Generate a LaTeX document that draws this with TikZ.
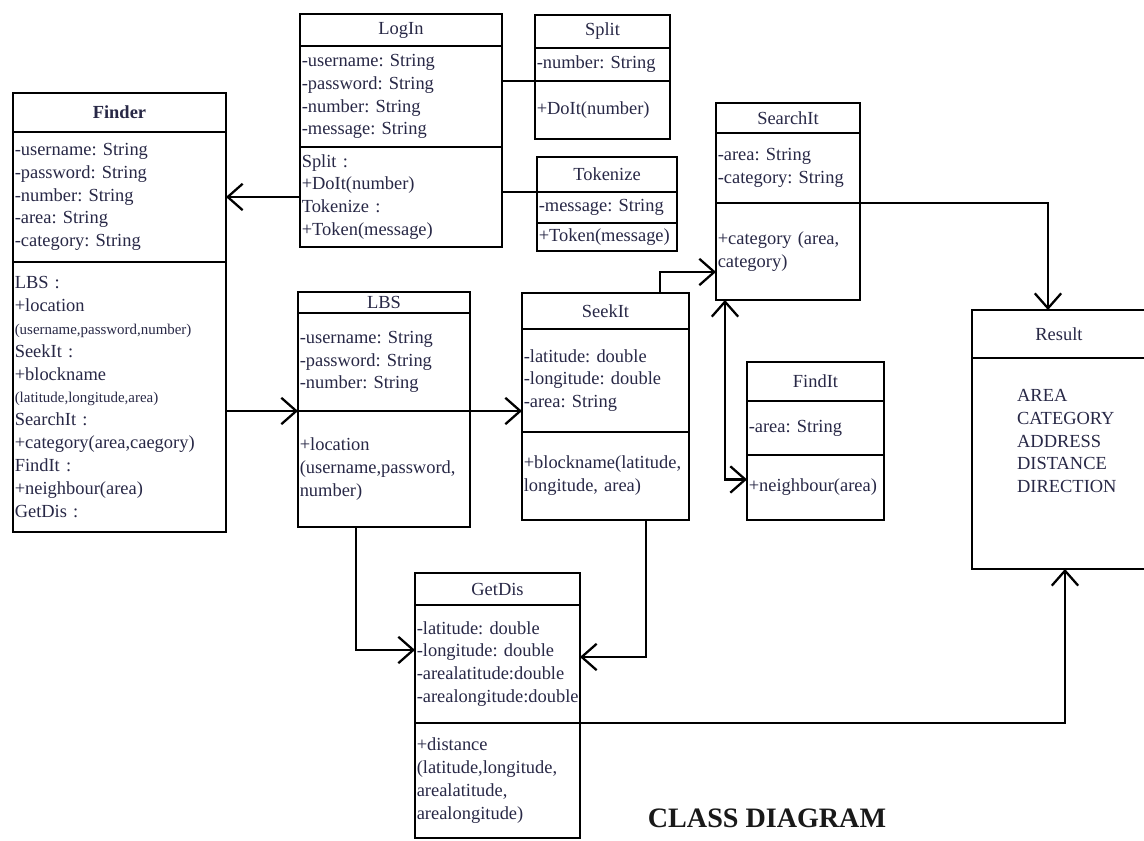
\documentclass[tikz,border=0pt]{standalone}
\usepackage{fontspec}
\setmainfont{Liberation Serif}
\usetikzlibrary{arrows.meta}

\definecolor{inktext}{RGB}{40,40,70}
\newcommand{\argsmall}[1]{{\fontsize{8.5}{13}\selectfont #1}}

\begin{document}
\begin{tikzpicture}[x=0.02cm, y=-0.02cm, line width=1.3pt,
        font=\fontsize{10.5}{13}\selectfont\frenchspacing,
        >={Straight Barb[length=8.5pt,width=15pt]},
        title_style/.style={draw, anchor=north west, align=center, inner xsep=1pt, inner ysep=0pt, outer sep=0pt, text=inktext},
        part_style/.style={draw, anchor=north west, align=left, inner xsep=1pt, inner ysep=0pt, outer sep=0pt, text=inktext},
        edge_style/.style={draw=black, line width=1.3pt, ->},
        both_style/.style={draw=black, line width=1.3pt, <->},
        link_style/.style={draw=black, line width=1.3pt}]

        \path [fill=white] (0,0) rectangle (1144,840);
        \useasboundingbox (0,0) rectangle (1144,840);

        % Finder
        \node [title_style, text width=4.19cm, minimum height=0.78cm, font=\fontsize{10.5}{13}\selectfont\bfseries](finder-t) at (13,93) {Finder};
        \node [part_style, text width=4.19cm, minimum height=2.6cm](finder-a) at (finder-t.south west) {-username: String\\-password: String\\-number: String\\-area: String\\-category: String};
        \node [part_style, text width=4.19cm, minimum height=5.4cm](finder-m) at (finder-a.south west) {LBS :\\+location\\\argsmall{(username,password,number)}\\SeekIt :\\+blockname\\\argsmall{(latitude,longitude,area)}\\SearchIt :\\+category(area,caegory)\\FindIt :\\+neighbour(area)\\GetDis :};

        % LogIn
        \node [title_style, text width=3.97cm, minimum height=0.64cm](login-t) at (300,14) {LogIn};
        \node [part_style, text width=3.97cm, minimum height=2.02cm](login-a) at (login-t.south west) {-username: String\\-password: String\\-number: String\\-message: String};
        \node [part_style, text width=3.97cm, minimum height=2.0cm](login-m) at (login-a.south west) {Split :\\+DoIt(number)\\Tokenize :\\+Token(message)};

        % Split
        \node [title_style, text width=2.63cm, minimum height=0.66cm](split-t) at (535,15) {Split};
        \node [part_style, text width=2.63cm, minimum height=0.66cm](split-a) at (split-t.south west) {-number: String};
        \node [part_style, text width=2.63cm, minimum height=1.16cm](split-m) at (split-a.south west) {+DoIt(number)\\[8pt]};

        % Tokenize
        \node [title_style, text width=2.73cm, minimum height=0.7cm](tokenize-t) at (537,157) {Tokenize};
        \node [part_style, text width=2.73cm, minimum height=0.62cm](tokenize-a) at (tokenize-t.south west) {-message: String};
        \node [part_style, text width=2.73cm, minimum height=0.56cm](tokenize-m) at (tokenize-a.south west) {+Token(message)};

        % LBS
        \node [title_style, text width=3.37cm, minimum height=0.42cm](lbs-t) at (298,292) {LBS};
        \node [part_style, text width=3.37cm, minimum height=1.96cm](lbs-a) at (lbs-t.south west) {-username: String\\-password: String\\-number: String};
        \node [part_style, text width=3.37cm, minimum height=2.32cm](lbs-m) at (lbs-a.south west) {+location\\(username,password,\\number)\\[6pt]};

        % SeekIt
        \node [title_style, text width=3.27cm, minimum height=0.72cm](seekit-t) at (522,293) {SeekIt};
        \node [part_style, text width=3.27cm, minimum height=2.06cm](seekit-a) at (seekit-t.south west) {-latitude: double\\-longitude: double\\-area: String};
        \node [part_style, text width=3.27cm, minimum height=1.76cm](seekit-m) at (seekit-a.south west) {+blockname(latitude,\\longitude, area)};

        % SearchIt
        \node [title_style, text width=2.81cm, minimum height=0.6cm](searchit-t) at (716,103) {SearchIt};
        \node [part_style, text width=2.81cm, minimum height=1.4cm](searchit-a) at (searchit-t.south west) {-area: String\\-category: String};
        \node [part_style, text width=2.81cm, minimum height=1.94cm](searchit-m) at (searchit-a.south west) {+category (area,\\category)};

        % FindIt
        \node [title_style, text width=2.67cm, minimum height=0.78cm](findit-t) at (747,362) {FindIt};
        \node [part_style, text width=2.67cm, minimum height=1.08cm](findit-a) at (findit-t.south west) {-area: String};
        \node [part_style, text width=2.67cm, minimum height=1.3cm](findit-m) at (findit-a.south west) {+neighbour(area)};

        % Result
        \node [title_style, text width=3.41cm, minimum height=0.96cm](result-t) at (972,310) {Result};
        \node [part_style, text width=3.41cm, minimum height=4.22cm](result-b) at (result-t.south west) {};
        \node [anchor=north west, align=left, inner sep=0pt, text=inktext](result-items) at (1016,388) {AREA\\CATEGORY\\ADDRESS\\DISTANCE\\DIRECTION};

        % GetDis
        \node [title_style, text width=3.23cm, minimum height=0.64cm](getdis-t) at (415,573) {GetDis};
        \node [part_style, text width=3.23cm, minimum height=2.36cm](getdis-a) at (getdis-t.south west) {-latitude: double\\-longitude: double\\-arealatitude:double\\\mbox{-arealongitude:double}};
        \node [part_style, text width=3.23cm, minimum height=2.3cm](getdis-m) at (getdis-a.south west) {+distance\\(latitude,longitude,\\arealatitude,\\arealongitude)};

        \node [font=\fontsize{16}{18}\selectfont\bfseries, text=black!90](caption) at (767,818) {CLASS DIAGRAM};

        % connectors
        \draw [edge_style] (login-m.west) -- (login-m.west -| finder-a.east);

        \draw [link_style] (login-a.east |- split-a.south) -- (split-a.south west);

        \draw [link_style] (login-m.east |- tokenize-t.south) -- (tokenize-t.south west);

        \draw [edge_style] (finder-m.east |- lbs-a.south) -- (lbs-a.south west);

        \draw [edge_style] (lbs-a.south east) -- (lbs-a.south east -| seekit-a.west);

        \draw [edge_style] ([xshift=-0.58cm]seekit-t.north east) |- ([yshift=0.56cm]searchit-m.south west);

        \draw [both_style] ([xshift=0.18cm]searchit-m.south west) |- ([yshift=0.16cm]findit-m.west);

        \draw [edge_style] (searchit-a.south east) -| ([xshift=-0.22cm]result-t.north);

        \draw [edge_style] ([xshift=1.16cm]lbs-m.south west) |- ([yshift=0.28cm]getdis-a.west);

        \draw [edge_style] ([xshift=-0.86cm]seekit-m.south east) |- ([yshift=0.14cm]getdis-a.east);

        \draw [edge_style] (getdis-a.south east) -| ([xshift=0.12cm]result-b.south);

\end{tikzpicture}
\end{document}
